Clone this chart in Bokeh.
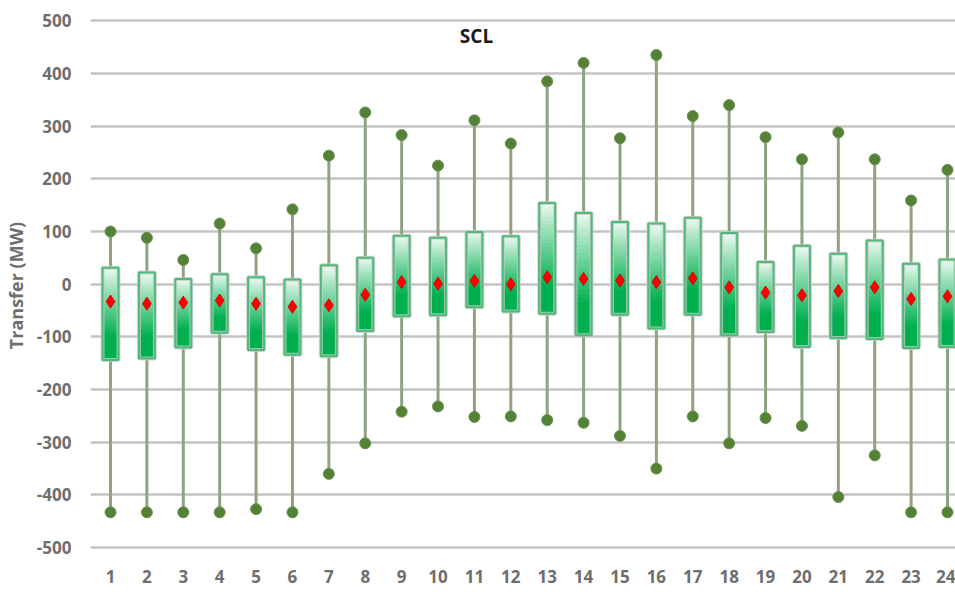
import numpy as np
from bokeh.plotting import figure
from bokeh.models import Label, FixedTicker, Range1d
from bokeh.embed import file_html
from bokeh.resources import INLINE

# ---- data ----
hours = list(range(1, 25))
max_vals = [100, 88, 46, 115, 68, 142, 244, 326, 283, 225, 311, 267,
            385, 420, 277, 435, 319, 340, 279, 237, 288, 237, 159, 217]
q3_vals = [31, 22, 10, 19, 13, 9, 36, 50, 92, 88, 99, 91,
           154, 135, 118, 115, 126, 97, 42, 73, 58, 83, 39, 47]
mean_vals = [-33, -37, -35, -31, -37, -43, -40, -20, 4, 1, 6, 0,
             13, 10, 7, 4, 11, -6, -16, -21, -13, -6, -28, -23]
q1_vals = [-144, -141, -120, -92, -125, -134, -137, -89, -61, -59, -44, -52,
           -56, -97, -58, -84, -58, -97, -91, -119, -102, -104, -121, -119]
min_vals = [-433, -433, -433, -433, -427, -433, -360, -302, -242, -232, -252, -251,
            -258, -263, -288, -350, -251, -302, -254, -269, -404, -325, -433, -433]
y_ticks = list(range(-500, 501, 100))
y_tick_labels = [str(t) for t in y_ticks]

# ---- styling ----
FONT = "Open Sans"
GREEN = (0, 176, 80)
TOP = (246, 252, 248)
BOX_HALF = 0.22

p = figure(width=955, height=592, output_backend="svg", toolbar_location=None,
           x_range=Range1d(0.45, 24.22), y_range=Range1d(-515, 510),
           min_border_left=90, min_border_right=0, min_border_top=15,
           min_border_bottom=37)
p.outline_line_color = None
p.background_fill_color = "white"
p.border_fill_color = "white"

# grid
p.xgrid.grid_line_color = None
p.ygrid.grid_line_color = "#c4c4c4"
p.ygrid.grid_line_width = 2.5

# axes
p.yaxis.ticker = FixedTicker(ticks=y_ticks)
p.yaxis.major_label_overrides = dict(zip(y_ticks, y_tick_labels))
p.xaxis.ticker = FixedTicker(ticks=hours)
for ax in (p.xaxis[0], p.yaxis[0]):
    ax.axis_line_color = None
    ax.major_tick_line_color = None
    ax.minor_tick_line_color = None
    ax.major_tick_out = 0
    ax.major_tick_in = 0
    ax.major_label_text_font = FONT
    ax.major_label_text_font_style = "bold"
    ax.major_label_text_color = "#6e6e6e"
    ax.major_label_text_font_size = "17px"
p.yaxis.major_label_standoff = 19
p.xaxis.major_label_standoff = 14
p.yaxis.axis_label = "Transfer (MW)"
p.yaxis.axis_label_text_font = FONT
p.yaxis.axis_label_text_font_style = "bold"
p.yaxis.axis_label_text_color = "#6e6e6e"
p.yaxis.axis_label_text_font_size = "18px"
p.yaxis.axis_label_standoff = 6

x = np.array(hours, dtype=float)
hi = np.array(max_vals, dtype=float)
q3 = np.array(q3_vals, dtype=float)
q1 = np.array(q1_vals, dtype=float)
lo = np.array(min_vals, dtype=float)
mn = np.array(mean_vals, dtype=float)

# whiskers
p.segment(x0=x, y0=q3, x1=x, y1=hi, line_color="#8fa382", line_width=3)
p.segment(x0=x, y0=q1, x1=x, y1=lo, line_color="#8fa382", line_width=3)

# gradient boxes built from thin overlapping slices
N = 30
ls, rs, bs, ts, cs = [], [], [], [], []
for xi, top, bot in zip(x, q3, q1):
    h = top - bot
    for k in range(N):
        t0 = k / N
        t1 = (k + 1) / N
        tm = (t0 + t1) / 2
        f = min(1.0, tm / 0.75) ** 0.9
        col = tuple(int(round(TOP[i] + (GREEN[i] - TOP[i]) * f)) for i in range(3))
        ls.append(xi - BOX_HALF)
        rs.append(xi + BOX_HALF)
        ts.append(top - h * t0)
        bs.append(max(bot, top - h * t1 - h / N))
        cs.append("#%02x%02x%02x" % col)
p.quad(left=ls, right=rs, bottom=bs, top=ts, fill_color=cs, line_color=cs,
       line_width=1)
# box shadow + outline
p.quad(left=x - BOX_HALF, right=x + BOX_HALF, bottom=q1, top=q3,
       fill_color=None, line_color="#c9c9c9", line_width=4, line_alpha=0.8)
p.quad(left=x - BOX_HALF, right=x + BOX_HALF, bottom=q1, top=q3,
       fill_color=None, line_color="#4fbb78", line_width=2)

# whisker end points
p.scatter(x=np.concatenate([x, x]), y=np.concatenate([hi, lo]), marker="circle",
          size=11, fill_color="#548235", line_color="#6c8f56", line_width=1)

# means
p.scatter(x=x, y=mn, marker="diamond", size=13, fill_color="#ff0000",
          line_color="#e00000", line_width=1)

# title inside plot
p.add_layout(Label(x=386, y=520, x_units="screen", y_units="screen", text="SCL",
                   text_font=FONT, text_font_style="bold", text_font_size="19px",
                   text_color="#1a1a1a", text_align="center", text_baseline="middle"))

open("out.html", "w").write(file_html(p, INLINE))
